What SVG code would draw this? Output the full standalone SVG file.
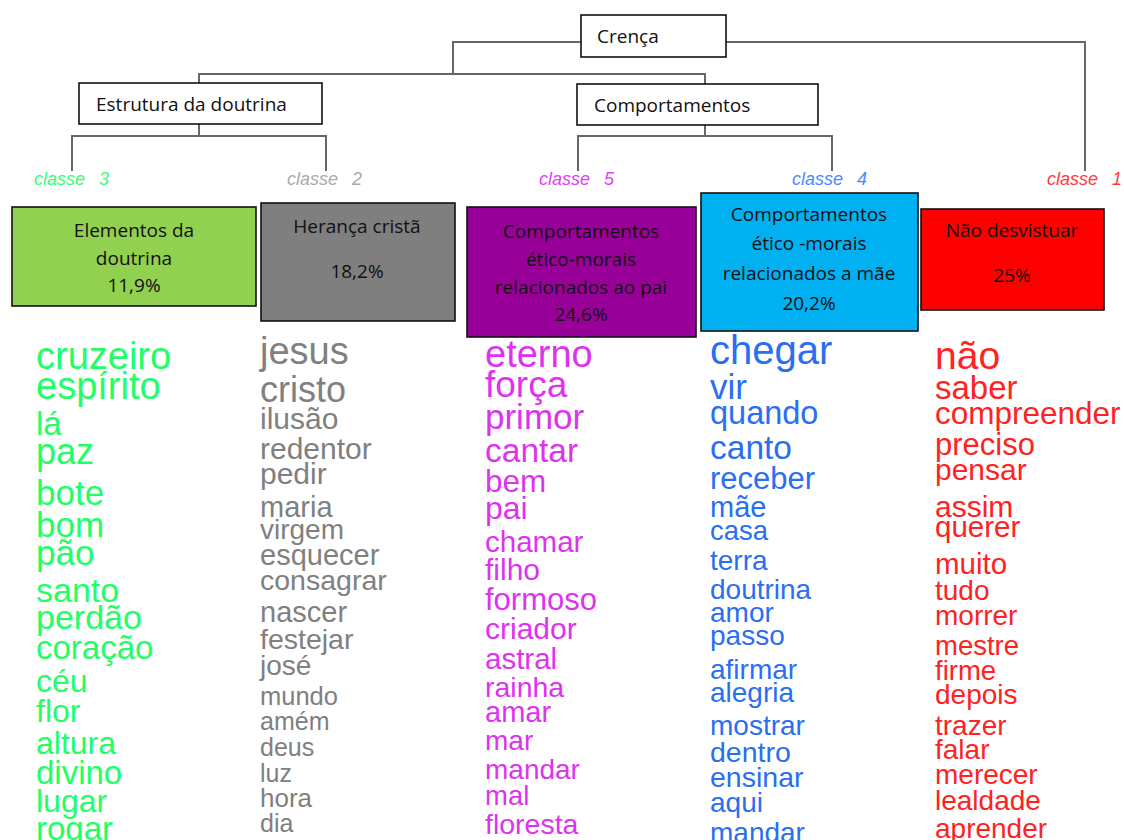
<svg xmlns="http://www.w3.org/2000/svg" width="1124" height="840" viewBox="0 0 1124 840">
<style>
.bx{stroke:#111;stroke-width:1.6}
.wb{fill:#fff}
.bt{font-family:"Open Sans","Noto Sans",sans-serif;font-size:19px;fill:#111;text-anchor:middle}
.tt{font-family:"Open Sans","Noto Sans",sans-serif;font-size:19px;fill:#111}
.cl{font-family:"Liberation Sans",Arial,sans-serif;font-style:italic;font-size:18px;word-spacing:9px}
.w{font-family:"Liberation Sans",Arial,sans-serif}
.g{fill:#22ff66}.gr{fill:#808080}.p{fill:#dd33f0}.b{fill:#2a6ef2}.r{fill:#ff2222}
.ln{fill:none;stroke:#666;stroke-width:2}
</style>
<rect width="1124" height="840" fill="#fff"/>
<g id="connectors" class="ln">
<polyline points="581,42 453,42 453,74"/>
<polyline points="199,83 199,74 705,74 705,84"/>
<polyline points="726,42 1085,42 1085,171"/>
<polyline points="199,124 199,136"/>
<polyline points="72,171 72,136 326,136 326,171"/>
<polyline points="705,125 705,136"/>
<polyline points="578,171 578,136 832,136 832,171"/>
</g>
<g id="crenca"><rect class="bx wb" x="581" y="15" width="145" height="42"/><text class="tt" x="597" y="43">Crença</text></g>
<g id="estrutura"><rect class="bx wb" x="79" y="83" width="243" height="41"/><text class="tt" x="96" y="111">Estrutura da doutrina</text></g>
<g id="comportamentos"><rect class="bx wb" x="577" y="84" width="241" height="41"/><text class="tt" x="594" y="112">Comportamentos</text></g>
<g id="labels" xml:space="preserve">
<text class="cl" x="34" y="185" fill="#33ff77">classe 3</text>
<text class="cl" x="287" y="185" fill="#aaaaaa">classe 2</text>
<text class="cl" x="539" y="185" fill="#e040fb">classe 5</text>
<text class="cl" x="792" y="185" fill="#4d88ff">classe 4</text>
<text class="cl" x="1047" y="185" fill="#ff3b3b">classe 1</text>
</g>
<g id="classe3">
<rect class="bx" x="12" y="207" width="244" height="99" fill="#92d050"/>
<text class="bt" x="134" y="237">Elementos da</text>
<text class="bt" x="134" y="265">doutrina</text>
<text class="bt" x="134" y="292">11,9%</text>
</g>
<g id="classe2">
<rect class="bx" x="261" y="203" width="194" height="118" fill="#7f7f7f"/>
<text class="bt" x="357" y="233">Herança cristã</text>
<text class="bt" x="357" y="278">18,2%</text>
</g>
<g id="classe5">
<rect class="bx" x="467" y="207" width="229" height="130" fill="#990099"/>
<text class="bt" x="581" y="238">Comportamentos</text>
<text class="bt" x="581" y="266">ético-morais</text>
<text class="bt" x="581" y="294">relacionados ao pai</text>
<text class="bt" x="581" y="321">24,6%</text>
</g>
<g id="classe4">
<rect class="bx" x="701" y="193" width="217" height="138" fill="#00b0f0"/>
<text class="bt" x="809" y="221">Comportamentos</text>
<text class="bt" x="809" y="250">ético -morais</text>
<text class="bt" x="809" y="280">relacionados a mãe</text>
<text class="bt" x="809" y="310">20,2%</text>
</g>
<g id="classe1">
<rect class="bx" x="921" y="209" width="183" height="101" fill="#ff0000"/>
<text class="bt" x="1012" y="237">Não desvistuar</text>
<text class="bt" x="1012" y="282">25%</text>
</g>
<g id="words3" class="w g" transform="translate(0,2)">
<text x="36" y="367" font-size="38">cruzeiro</text>
<text x="36" y="397" font-size="38">espírito</text>
<text x="36" y="433" font-size="33">lá</text>
<text x="36" y="462" font-size="36">paz</text>
<text x="36" y="503" font-size="35">bote</text>
<text x="36" y="535" font-size="35">bom</text>
<text x="36" y="563" font-size="35">pão</text>
<text x="36" y="600" font-size="34">santo</text>
<text x="36" y="627" font-size="34">perdão</text>
<text x="36" y="657" font-size="33">coração</text>
<text x="36" y="690" font-size="32">céu</text>
<text x="36" y="720" font-size="32">flor</text>
<text x="36" y="752" font-size="32">altura</text>
<text x="36" y="782" font-size="33">divino</text>
<text x="36" y="810" font-size="32">lugar</text>
<text x="36" y="838" font-size="33">rogar</text>
</g>
<g id="words2" class="w gr" transform="translate(0,2)">
<text x="260" y="362" font-size="38">jesus</text>
<text x="260" y="400" font-size="36">cristo</text>
<text x="260" y="427" font-size="30">ilusão</text>
<text x="260" y="457" font-size="30">redentor</text>
<text x="260" y="482" font-size="30">pedir</text>
<text x="260" y="515" font-size="29">maria</text>
<text x="260" y="537" font-size="28">virgem</text>
<text x="260" y="563" font-size="29">esquecer</text>
<text x="260" y="588" font-size="28.5">consagrar</text>
<text x="260" y="620" font-size="29">nascer</text>
<text x="260" y="647" font-size="28.5">festejar</text>
<text x="260" y="673" font-size="28">josé</text>
<text x="260" y="703" font-size="25.5">mundo</text>
<text x="260" y="728" font-size="25">amém</text>
<text x="260" y="754" font-size="25">deus</text>
<text x="260" y="780" font-size="25">luz</text>
<text x="260" y="805" font-size="26">hora</text>
<text x="260" y="830" font-size="25">dia</text>
</g>
<g id="words5" class="w p" transform="translate(0,2)">
<text x="485" y="365" font-size="38">eterno</text>
<text x="485" y="395" font-size="37">força</text>
<text x="485" y="427" font-size="35">primor</text>
<text x="485" y="460" font-size="33.5">cantar</text>
<text x="485" y="490" font-size="31.5">bem</text>
<text x="485" y="517" font-size="32">pai</text>
<text x="485" y="550" font-size="29.5">chamar</text>
<text x="485" y="578" font-size="30">filho</text>
<text x="485" y="608" font-size="31">formoso</text>
<text x="485" y="637" font-size="30">criador</text>
<text x="485" y="667" font-size="29.5">astral</text>
<text x="485" y="695" font-size="28.5">rainha</text>
<text x="485" y="720" font-size="29">amar</text>
<text x="485" y="748" font-size="28">mar</text>
<text x="485" y="777" font-size="28">mandar</text>
<text x="485" y="803" font-size="27.5">mal</text>
<text x="485" y="832" font-size="28.5">floresta</text>
</g>
<g id="words4" class="w b" transform="translate(0,2)">
<text x="710" y="362" font-size="40">chegar</text>
<text x="710" y="397" font-size="35">vir</text>
<text x="710" y="422" font-size="32.5">quando</text>
<text x="710" y="457" font-size="33.5">canto</text>
<text x="710" y="487" font-size="31">receber</text>
<text x="710" y="515" font-size="29">mãe</text>
<text x="710" y="538" font-size="27.5">casa</text>
<text x="710" y="568" font-size="28">terra</text>
<text x="710" y="597" font-size="28">doutrina</text>
<text x="710" y="620" font-size="28">amor</text>
<text x="710" y="643" font-size="28">passo</text>
<text x="710" y="677" font-size="28">afirmar</text>
<text x="710" y="700" font-size="28">alegria</text>
<text x="710" y="733" font-size="28">mostrar</text>
<text x="710" y="760" font-size="28.5">dentro</text>
<text x="710" y="785" font-size="28.5">ensinar</text>
<text x="710" y="810" font-size="28">aqui</text>
<text x="710" y="840" font-size="28">mandar</text>
</g>
<g id="words1" class="w r" transform="translate(0,2)">
<text x="935" y="367" font-size="39">não</text>
<text x="935" y="397" font-size="33">saber</text>
<text x="935" y="422" font-size="31.5">compreender</text>
<text x="935" y="453" font-size="31">preciso</text>
<text x="935" y="478" font-size="30">pensar</text>
<text x="935" y="515" font-size="30">assim</text>
<text x="935" y="535" font-size="29.5">querer</text>
<text x="935" y="572" font-size="29.5">muito</text>
<text x="935" y="598" font-size="28">tudo</text>
<text x="935" y="623" font-size="28">morrer</text>
<text x="935" y="653" font-size="27.5">mestre</text>
<text x="935" y="678" font-size="27.5">firme</text>
<text x="935" y="702" font-size="28">depois</text>
<text x="935" y="733" font-size="28">trazer</text>
<text x="935" y="757" font-size="28">falar</text>
<text x="935" y="782" font-size="28">merecer</text>
<text x="935" y="808" font-size="28">lealdade</text>
<text x="935" y="836" font-size="28">aprender</text>
</g>
</svg>
